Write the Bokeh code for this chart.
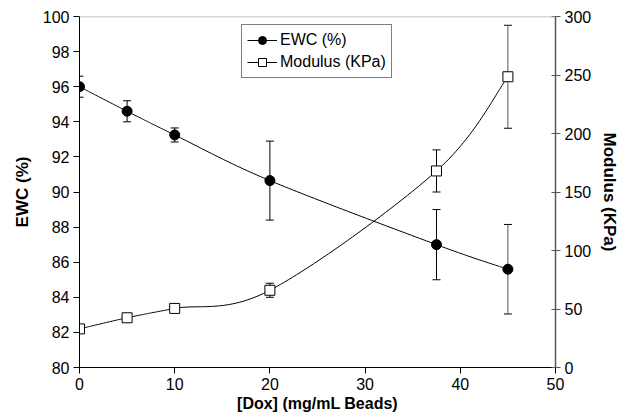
import numpy as np
from bokeh.plotting import figure
from bokeh.models import Range1d, LinearAxis, Whisker, ColumnDataSource, Legend, LegendItem, Span, TeeHead, FixedTicker
from bokeh.embed import file_html
from bokeh.resources import INLINE

dox = [0, 5, 10, 20, 37.5, 45]
ewc = [96.0, 94.6, 93.25, 90.65, 87.0, 85.6]
ewc_err = [0.6, 0.6, 0.4, 2.25, 2.0, 2.55]
modulus = [33, 42.5, 50.5, 66, 168, 248.5]
mod_err = [3, 2, 3, 6, 18, 44]
err_colors = ["black", "black", "black", "black", "black", "#555555"]

x_ticks = [0, 10, 20, 30, 40, 50]
ewc_ticks = [80, 82, 84, 86, 88, 90, 92, 94, 96, 98, 100]
mod_ticks = [0, 50, 100, 150, 200, 250, 300]

FONT = "Liberation Sans"
FRAME_W, FRAME_H = 477, 351
X0, X1, Y0, Y1, M0, M1 = 0, 50, 80, 100, 0, 300


def smooth(xs, ys, sx, sy, n=40):
    # spreadsheet-style smoothed line (Catmull-Rom as Bezier), computed in pixel-like space
    P = np.column_stack([np.asarray(xs, float) * sx, np.asarray(ys, float) * sy])
    out = [P[0]]
    for i in range(len(P) - 1):
        p0 = P[i - 1] if i > 0 else P[i]
        p1, p2 = P[i], P[i + 1]
        p3 = P[i + 2] if i + 2 < len(P) else P[i + 1]
        c1 = p1 + (p2 - p0) / 6.0
        c2 = p2 - (p3 - p1) / 6.0
        t = np.linspace(0, 1, n)[1:, None]
        b = ((1 - t) ** 3) * p1 + 3 * ((1 - t) ** 2) * t * c1 + 3 * (1 - t) * t ** 2 * c2 + t ** 3 * p2
        out.extend(b)
    out = np.array(out)
    return out[:, 0] / sx, out[:, 1] / sy


p = figure(width=622, height=419, output_backend="svg", toolbar_location=None,
           x_range=Range1d(X0, X1), y_range=Range1d(Y0, Y1),
           x_axis_location=None, y_axis_location=None,
           min_border_left=79, min_border_right=66, min_border_top=16, min_border_bottom=52)
p.extra_y_ranges = {"mod": Range1d(M0, M1)}
p.outline_line_color = None
p.grid.visible = False
p.background_fill_color = "white"
p.border_fill_color = "white"

p.add_layout(Span(location=Y1, dimension="width", line_color="#b0b0b0", line_width=1.5))

# EWC
ex, ey = smooth(dox, ewc, FRAME_W / (X1 - X0), FRAME_H / (Y1 - Y0))
l1 = p.line(ex, ey, line_color="black", line_width=1)
src1 = ColumnDataSource(dict(x=dox, y=ewc, c=err_colors, lo=[a - b for a, b in zip(ewc, ewc_err)],
                             hi=[a + b for a, b in zip(ewc, ewc_err)]))
p.segment(x0="x", x1="x", y0="lo", y1="hi", source=src1, line_color="c", line_width=1)
p.add_layout(Whisker(source=src1, base="x", lower="lo", upper="hi", line_alpha=0,
                     upper_head=TeeHead(size=8, line_color="black"),
                     lower_head=TeeHead(size=8, line_color="black")))
s1 = p.scatter("x", "y", source=src1, marker="circle", size=10, fill_color="black", line_color="black")

# Modulus
mx, my = smooth(dox, modulus, FRAME_W / (X1 - X0), FRAME_H / (M1 - M0))
l2 = p.line(mx, my, line_color="black", line_width=1, y_range_name="mod")
src2 = ColumnDataSource(dict(x=dox, y=modulus, c=err_colors, lo=[a - b for a, b in zip(modulus, mod_err)],
                             hi=[a + b for a, b in zip(modulus, mod_err)]))
p.segment(x0="x", x1="x", y0="lo", y1="hi", source=src2, line_color="c", line_width=1, y_range_name="mod")
p.add_layout(Whisker(source=src2, base="x", lower="lo", upper="hi", line_alpha=0,
                     y_range_name="mod",
                     upper_head=TeeHead(size=8, line_color="black"),
                     lower_head=TeeHead(size=8, line_color="black")))
s2 = p.scatter("x", "y", source=src2, marker="square", size=10, fill_color="white", line_color="black",
               y_range_name="mod")


def style(ax, color, tin, tout, lw):
    ax.axis_line_color = color
    ax.axis_line_width = lw
    ax.major_tick_line_color = color
    ax.major_tick_line_width = 1
    ax.minor_tick_line_color = None
    ax.major_tick_in = tin
    ax.major_tick_out = tout
    ax.major_label_standoff = 4
    ax.major_label_text_font = FONT
    ax.major_label_text_font_size = "16px"
    ax.major_label_text_color = "black"
    ax.axis_label_text_font = FONT
    ax.axis_label_text_font_style = "bold"
    ax.axis_label_text_color = "black"


xax = LinearAxis(axis_label="[Dox] (mg/mL Beads)", ticker=FixedTicker(ticks=x_ticks))
style(xax, "black", 0, 6, 1)
xax.axis_label_text_font_size = "16px"
xax.axis_label_standoff = 2
p.add_layout(xax, "below")

yax = LinearAxis(axis_label="EWC (%)", ticker=FixedTicker(ticks=ewc_ticks))
style(yax, "black", 0, 6, 1)
yax.axis_label_text_font_size = "17px"
yax.axis_label_standoff = 8
p.add_layout(yax, "left")

rax = LinearAxis(y_range_name="mod", axis_label="Modulus (KPa)", ticker=FixedTicker(ticks=mod_ticks))
style(rax, "#555555", 4, 5, 1.5)
rax.axis_label_text_font_size = "17px"
rax.axis_label_standoff = 6
p.add_layout(rax, "right")

legend = Legend(items=[LegendItem(label="EWC (%)", renderers=[l1, s1]),
                       LegendItem(label="Modulus (KPa)", renderers=[l2, s2])],
                location=(162, 289), border_line_color="black", border_line_width=1,
                label_text_font=FONT, label_text_font_size="16px", label_text_color="black",
                glyph_width=30, glyph_height=20, spacing=2, padding=5, margin=0,
                label_standoff=3, background_fill_alpha=1)
p.add_layout(legend, "center")

open("out.html", "w").write(file_html(p, INLINE))
